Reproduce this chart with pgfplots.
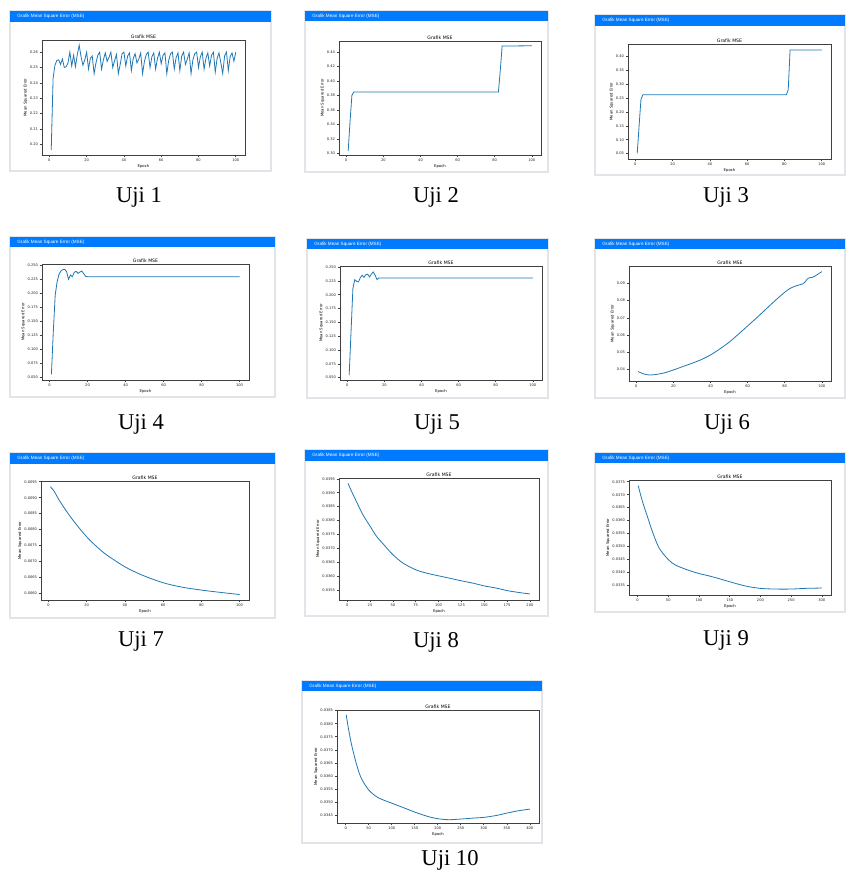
\documentclass[border=0pt]{standalone}
\usepackage{fontspec}
\setmainfont{Liberation Serif}
\newfontfamily\mplfont{DejaVu Sans}
\newfontfamily\webfont{Liberation Sans}
\usepackage{pgfplots}
\pgfplotsset{compat=1.18}
\definecolor{barblue}{RGB}{0,123,255}
\definecolor{mplblue}{RGB}{31,119,180}
\definecolor{cardline}{RGB}{225,228,232}

\pgfplotsset{mse/.style={
  scale only axis, anchor=south west,
  axis line style={draw=black!75, line width=0.4pt},
  tick align=outside, major tick length=1.2pt,
  every tick/.style={black!75, line width=0.3pt},
  xtick pos=lower, ytick pos=left,
  scaled ticks=false,
  /pgf/number format/assume math mode=true,
  ticklabel style={font=\mplfont\fontsize{1.8}{2}\selectfont, text=black!85, inner sep=0.6pt},
  title={Grafik MSE},
  every axis title/.style={at={(0.5,1)}, anchor=south, inner sep=0.6pt,
     font=\mplfont\fontsize{2.3}{2.6}\selectfont},
  xlabel={Epoch}, ylabel={Mean Squared Error},
  label style={font=\mplfont\fontsize{1.9}{2.2}\selectfont, inner sep=0.5pt},
  cycle list={{mplblue, line width=0.55pt, mark=none}},
}}

\newcommand{\card}[5]{%
  \fill[white] (#1,#2) rectangle (#3,#4);
  \draw[cardline, line width=0.8pt] (#1,#2) rectangle (#3,#4);
  \fill[barblue] (#1,#2) rectangle (#3,#5);
  \node[anchor=west, text=white, font=\webfont\fontsize{2.3}{2.6}\selectfont, inner sep=0pt] at ({#1+7},{(#2+#5)/2}) {Grafik Mean Square Error (MSE)};
}

\begin{document}
\begin{tikzpicture}
\begin{scope}[x=0.5pt, y=-0.5pt]
\path[use as bounding box] (0,0) rectangle (846,873);
\card{10}{11}{271}{171}{22}
\card{305}{11}{548}{172}{21}
\card{595}{15}{845}{175}{26}
\card{10}{237}{275}{397}{247}
\card{307}{239}{548}{398}{249}
\card{595}{239}{845}{398}{249}
\card{10}{453}{275}{618}{464}
\card{305}{450}{548}{616}{461}
\card{595}{453}{845}{612}{463}
\card{302}{681}{542}{843}{691}
\begin{scope}[font=\fontsize{11.3}{13}\selectfont]
\node[anchor=base] at (139,202) {Uji 1};
\node[anchor=base] at (436,202) {Uji 2};
\node[anchor=base] at (726,202) {Uji 3};
\node[anchor=base] at (141,429) {Uji 4};
\node[anchor=base] at (437,429) {Uji 5};
\node[anchor=base] at (727,429) {Uji 6};
\node[anchor=base] at (141,646) {Uji 7};
\node[anchor=base] at (436,647) {Uji 8};
\node[anchor=base] at (726,645) {Uji 9};
\node[anchor=base] at (450,865) {Uji 10};
\end{scope}
\end{scope}

% Uji 1
\begin{axis}[mse, at={(21pt,-77.5pt)}, width=101.5pt, height=57.5pt,
  xmin=-3.95, xmax=104.95, ymin=0.193, ymax=0.2679,
  xtick={0,20,40,60,80,100}, ytick={0.20,0.21,0.22,0.23,0.24,0.25,0.26},
  yticklabel style={/pgf/number format/.cd, fixed, fixed zerofill, precision=2}]
\addplot coordinates {(1,0.1963)(2,0.2430)(3,0.2515)(4,0.2545)(5,0.2550)(6,0.2520)(7,0.2555)(8,0.2500)(9,0.2505)(10,0.2530)
(11,0.2600)(12,0.2510)(13,0.2580)(14,0.2505)(15,0.2585)(16,0.2645)(17,0.2570)(18,0.2515)(19,0.2550)(20,0.2600)
(21,0.2490)(22,0.2560)(23,0.2575)(24,0.2460)(25,0.2530)(26,0.2580)(27,0.2600)(28,0.2490)(29,0.2550)(30,0.2595)
(31,0.2540)(32,0.2565)(33,0.2600)(34,0.2500)(35,0.2545)(36,0.2585)(37,0.2460)(38,0.2520)(39,0.2590)(40,0.2600)
(41,0.2510)(42,0.2575)(43,0.2595)(44,0.2480)(45,0.2560)(46,0.2590)(47,0.2530)(48,0.2555)(49,0.2595)(50,0.2460)
(51,0.2540)(52,0.2585)(53,0.2600)(54,0.2500)(55,0.2570)(56,0.2595)(57,0.2490)(58,0.2560)(59,0.2600)(60,0.2525)
(61,0.2580)(62,0.2595)(63,0.2460)(64,0.2545)(65,0.2590)(66,0.2600)(67,0.2490)(68,0.2565)(69,0.2595)(70,0.2480)
(71,0.2575)(72,0.2600)(73,0.2520)(74,0.2555)(75,0.2595)(76,0.2460)(77,0.2550)(78,0.2590)(79,0.2600)(80,0.2500)
(81,0.2570)(82,0.2600)(83,0.2490)(84,0.2560)(85,0.2595)(86,0.2510)(87,0.2580)(88,0.2600)(89,0.2470)(90,0.2560)
(91,0.2595)(92,0.2530)(93,0.2460)(94,0.2575)(95,0.2600)(96,0.2480)(97,0.2570)(98,0.2595)(99,0.2540)(100,0.2600)};
\end{axis}

% Uji 2
\begin{axis}[mse, at={(169.5pt,-77.5pt)}, width=101pt, height=57pt,
  xmin=-3.95, xmax=104.95, ymin=0.2977, ymax=0.4555,
  xtick={0,20,40,60,80,100}, ytick={0.30,0.32,0.34,0.36,0.38,0.40,0.42,0.44},
  yticklabel style={/pgf/number format/.cd, fixed, fixed zerofill, precision=2}]
\addplot coordinates {(1,0.30325)(2,0.34408)(3,0.38028)(4,0.38492)(82,0.38492)(83,0.4150)(84,0.4485)(100,0.4489)};
\end{axis}

% Uji 3
\begin{axis}[mse, at={(314pt,-79.5pt)}, width=101.5pt, height=57.5pt,
  xmin=-3.95, xmax=104.95, ymin=0.0308, ymax=0.4442,
  xtick={0,20,40,60,80,100}, ytick={0.05,0.10,0.15,0.20,0.25,0.30,0.35,0.40},
  yticklabel style={/pgf/number format/.cd, fixed, fixed zerofill, precision=2}]
\addplot coordinates {(1,0.0512)(2,0.1500)(3,0.2450)(4,0.2615)(81,0.2615)(82,0.2796)(83,0.4226)(100,0.4226)};
\end{axis}

% Uji 4
\begin{axis}[mse, at={(21pt,-190pt)}, width=103.5pt, height=58pt,
  xmin=-3.95, xmax=104.95, ymin=0.0458, ymax=0.2530,
  xtick={0,20,40,60,80,100}, ytick={0.050,0.075,0.100,0.125,0.150,0.175,0.200,0.225,0.250},
  yticklabel style={/pgf/number format/.cd, fixed, fixed zerofill, precision=3}]
\addplot coordinates {(1,0.05595)(2,0.13214)(3,0.19762)(4,0.22143)(5,0.23452)(6,0.24048)(7,0.24286)(8,0.24345)(9,0.23929)(10,0.22560)
(11,0.23333)(12,0.23036)(13,0.23810)(14,0.23988)(15,0.23631)(16,0.23869)(17,0.24048)(18,0.23571)(19,0.23095)(20,0.23036)(100,0.23036)};
\end{axis}

% Uji 5
\begin{axis}[mse, at={(170pt,-190pt)}, width=101pt, height=57pt,
  xmin=-3.95, xmax=104.95, ymin=0.0458, ymax=0.2519,
  xtick={0,20,40,60,80,100}, ytick={0.050,0.075,0.100,0.125,0.150,0.175,0.200,0.225,0.250},
  yticklabel style={/pgf/number format/.cd, fixed, fixed zerofill, precision=3}]
\addplot coordinates {(1,0.054808)(2,0.132933)(3,0.211058)(4,0.227284)(5,0.224279)(6,0.223077)(7,0.230889)(8,0.235096)(9,0.23149)(10,0.236298)
(11,0.2369)(12,0.232091)(13,0.2375)(14,0.241106)(15,0.235096)(16,0.227284)(17,0.230288)(18,0.2303)(100,0.2303)};
\end{axis}

% Uji 6
\begin{axis}[mse, at={(314.5pt,-190.5pt)}, width=101pt, height=57.5pt,
  xmin=-3.95, xmax=104.95, ymin=0.0334, ymax=0.1000,
  xtick={0,20,40,60,80,100}, ytick={0.04,0.05,0.06,0.07,0.08,0.09},
  yticklabel style={/pgf/number format/.cd, fixed, fixed zerofill, precision=2}]
\addplot+[smooth, tension=0.4] coordinates {(1,0.03884)(4,0.03749)(7,0.03691)(10,0.03710)(15,0.03807)(20,0.03981)(25,0.04174)(30,0.04367)(35,0.04579)(40,0.04849)
(45,0.05197)(50,0.05583)(55,0.06046)(60,0.06529)(65,0.07012)(70,0.07514)(75,0.08015)(80,0.08479)(83,0.08710)(86,0.08846)
(89,0.08942)(90,0.08981)(91,0.09077)(92,0.09232)(93,0.09309)(95,0.09348)(97,0.09463)(100,0.09676)};
\end{axis}

% Uji 7
\begin{axis}[mse, at={(20.5pt,-300pt)}, width=104pt, height=59.5pt,
  xmin=-3.95, xmax=104.95, ymin=0.005788, ymax=0.009525,
  xtick={0,20,40,60,80,100}, ytick={0.0060,0.0065,0.0070,0.0075,0.0080,0.0085,0.0090,0.0095},
  yticklabel style={/pgf/number format/.cd, fixed, fixed zerofill, precision=4}]
\addplot+[smooth, tension=0.5] coordinates {(1,0.009344)(3,0.009200)(5,0.008980)(9,0.008610)(14,0.008200)(20,0.007770)(26,0.007420)(31,0.007180)
(40,0.006830)(49,0.006570)(60,0.006330)(70,0.006190)(80,0.006100)(91,0.006020)(100,0.005960)};
\end{axis}

% Uji 8
\begin{axis}[mse, at={(169.5pt,-300pt)}, width=100pt, height=61pt,
  xmin=-8.95, xmax=209.95, ymin=0.035137, ymax=0.039532,
  xtick={0,25,50,75,100,125,150,175,200}, ytick={0.0355,0.0360,0.0365,0.0370,0.0375,0.0380,0.0385,0.0390,0.0395},
  yticklabel style={/pgf/number format/.cd, fixed, fixed zerofill, precision=4}]
\addplot+[smooth, tension=0.5] coordinates {(1,0.039338)(3,0.039180)(8,0.038829)(17,0.038224)(25,0.037800)(32,0.037437)(40,0.037134)(50,0.036771)
(61,0.036469)(75,0.036226)(87,0.036105)(100,0.036008)(112,0.035924)(125,0.035827)(138,0.035742)(150,0.035645)(164,0.035561)
(175,0.035476)(189,0.035403)(200,0.035355)};
\end{axis}

% Uji 9
\begin{axis}[mse, at={(314.5pt,-297.5pt)}, width=101pt, height=57.5pt,
  xmin=-13.95, xmax=314.95, ymin=0.033129, ymax=0.037567,
  xtick={0,50,100,150,200,250,300}, ytick={0.0335,0.0340,0.0345,0.0350,0.0355,0.0360,0.0365,0.0370,0.0375},
  yticklabel style={/pgf/number format/.cd, fixed, fixed zerofill, precision=4}]
\addplot+[smooth, tension=0.5] coordinates {(1,0.037349)(8,0.036735)(16,0.036160)(24,0.035584)(35,0.034945)(50,0.034497)(62,0.034280)(84,0.034075)
(100,0.033960)(122,0.033832)(150,0.033641)(176,0.033474)(200,0.033385)(224,0.033359)(250,0.033359)(273,0.033385)(300,0.033398)};
\end{axis}

% Uji 10
\begin{axis}[mse, at={(168.5pt,-411.5pt)}, width=101pt, height=56.5pt,
  xmin=-18.95, xmax=419.95, ymin=0.034196, ymax=0.038525,
  xtick={0,50,100,150,200,250,300,350,400}, ytick={0.0345,0.0350,0.0355,0.0360,0.0365,0.0370,0.0375,0.0380,0.0385},
  yticklabel style={/pgf/number format/.cd, fixed, fixed zerofill, precision=4}]
\addplot+[smooth, tension=0.5] coordinates {(1,0.038348)(6,0.037804)(13,0.037171)(24,0.036411)(34,0.035905)(50,0.035462)(70,0.035171)(100,0.034956)
(128,0.034766)(150,0.034614)(178,0.034449)(200,0.034361)(224,0.034323)(250,0.034348)(278,0.034386)(300,0.034411)(328,0.034487)
(350,0.034576)(375,0.034665)(400,0.034728)};
\end{axis}
\end{tikzpicture}
\end{document}
